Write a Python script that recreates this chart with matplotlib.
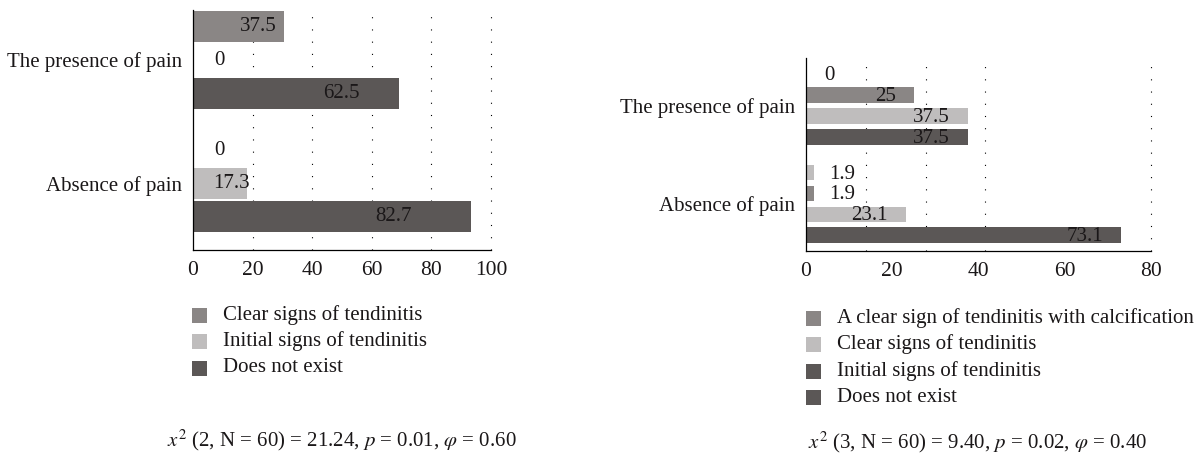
import matplotlib
matplotlib.use("Agg")
import matplotlib.pyplot as plt
from matplotlib.patches import Rectangle

plt.rcParams['font.family'] = ['Liberation Serif', 'DejaVu Serif']
plt.rcParams['mathtext.fontset'] = 'stix'

# ---- data ----
groups = ['The presence of pain', 'Absence of pain']

# left panel: printed values and drawn bar lengths (the bars in the source are not to scale)
left_series = ['Clear signs of tendinitis', 'Initial signs of tendinitis', 'Does not exist']
left_values = [[37.5, 0], [0, 17.3], [62.5, 82.7]]
left_drawn = [[30.5, 0], [0, 18.0], [69.1, 93.3]]
left_ticks = [0, 20, 40, 60, 80, 100]
left_grid = [20, 40, 60, 80, 100]

# right panel
right_series = ['A clear sign of tendinitis with calcification', 'Clear signs of tendinitis',
                'Initial signs of tendinitis', 'Does not exist']
right_values = [[0, 1.9], [25, 1.9], [37.5, 23.1], [37.5, 73.1]]
right_ticks = [0, 20, 40, 60, 80]
right_grid = [13.9, 27.8, 41.6, 80]

left_caption = r'$x^2$ (2, N = 60) = 21.24, $p$ = 0.01, $\varphi$ = 0.60'
right_caption = r'$x^2$ (3, N = 60) = 9.40, $p$ = 0.02, $\varphi$ = 0.40'

# ---- styling ----
MID, LIGHT, DARK = '#8a8685', '#bfbdbd', '#5b5756'
TXT = '#1a1718'
left_colors = [MID, LIGHT, DARK]
right_bar_colors = [LIGHT, MID, LIGHT, DARK]
right_legend_colors = [MID, LIGHT, DARK, DARK]

W, H = 1204, 459
fig = plt.figure(figsize=(W / 100, H / 100), dpi=100)


def box(x0, y0, x1, y1):
    return [x0 / W, 1 - y1 / H, (x1 - x0) / W, (y1 - y0) / H]


def style_axes(ax, xmax, ticks, grid):
    ax.set_xlim(0, xmax)
    ax.set_xticks(ticks)
    lo, hi = ax.get_ylim()
    # dotted vertical guides, behind the bars
    ax.vlines(grid, lo, hi, colors='black', lw=0.8, linestyles=[(0, (1, 10))],
              zorder=0, clip_on=False)
    ax.set_ylim(lo, hi)
    for s in ['top', 'right']:
        ax.spines[s].set_visible(False)
    for s in ['left', 'bottom']:
        ax.spines[s].set_linewidth(0.9)
        ax.spines[s].set_color('black')
        ax.spines[s].set_zorder(4)
    ax.tick_params(axis='x', length=0, pad=8, labelsize=15.5, labelcolor=TXT)
    ax.tick_params(axis='y', length=0, pad=8, labelsize=15, labelcolor=TXT)
    ax.set_yticks([1, 0])
    ax.set_yticklabels(groups)


# left panel
axL = fig.add_axes(box(193, 10, 491, 250))
pitch, hgt = 0.269, 0.251
for i, (vals, drawn) in enumerate(zip(left_values, left_drawn)):
    ys = [1 + (1 - i) * pitch, 0 + (1 - i) * pitch]
    axL.barh(ys, drawn, height=hgt, color=left_colors[i], zorder=2)
    for y, v, d in zip(ys, vals, drawn):
        xc = 0.72 * d if d > 0 else 9
        axL.text(xc, y, f'{v:g}', ha='center', va='center', fontsize=15,
                 color=TXT, zorder=3)
axL.set_ylim(-0.538, 1.405)
style_axes(axL, 100, left_ticks, left_grid)

# right panel
axR = fig.add_axes(box(806, 58, 1151, 251))
pitch, hgt = 0.212, 0.159
for i, vals in enumerate(right_values):
    ys = [1 + (1.5 - i) * pitch, 0 + (1.5 - i) * pitch]
    axR.barh(ys, vals, height=hgt, color=right_bar_colors[i], zorder=2)
    for y, v in zip(ys, vals):
        if v == 0:
            axR.annotate('0', (0, y), xytext=(17, -1), textcoords='offset points',
                         ha='center', va='center', fontsize=15, color=TXT)
        elif v < 5:
            axR.annotate(f'{v:g}', (v, y), xytext=(11, -1), textcoords='offset points',
                         ha='left', va='center', fontsize=15, color=TXT)
        else:
            axR.annotate(f'{v:g}', (v, y), xytext=(-13, -1), textcoords='offset points',
                         ha='right', va='center', fontsize=15, color=TXT)
axR.set_ylim(-0.477, 1.481)
style_axes(axR, 80, right_ticks, right_grid)


# legends
def draw_legend(x_sq, x_txt, rows_y, labels, colors):
    for y, lab, c in zip(rows_y, labels, colors):
        fig.patches.append(Rectangle((x_sq / W, 1 - (y + 7.5) / H), 15 / W, 15 / H,
                                     transform=fig.transFigure, color=c, lw=0))
        fig.text(x_txt / W, 1 - y / H, lab, ha='left', va='center', fontsize=15, color=TXT)


draw_legend(192, 223, [315, 341.5, 368], left_series, left_colors)
draw_legend(806, 837, [318, 344.5, 371, 397.5], right_series, right_legend_colors)

fig.text(342 / W, 1 - 440 / H, left_caption, ha='center', va='center', fontsize=15, color=TXT)
fig.text(978 / W, 1 - 442 / H, right_caption, ha='center', va='center', fontsize=15, color=TXT)

fig.savefig('out.png', dpi=100, facecolor='white')
